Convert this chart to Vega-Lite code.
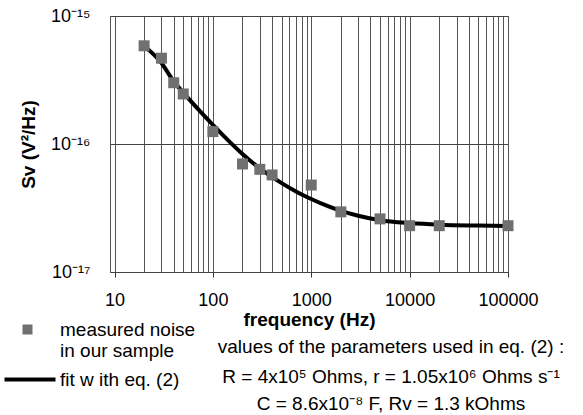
{
  "$schema": "https://vega.github.io/schema/vega-lite/v6.json",
  "width": 398,
  "height": 256,
  "autosize": {"type": "none"},
  "padding": {"left": 110, "top": 16, "right": 75, "bottom": 143},
  "background": "white",
  "config": {
    "font": "Liberation Sans",
    "view": {"stroke": "#555", "strokeWidth": 1}
  },
  "title": {
    "text": "values of the parameters used in eq. (2) :",
    "subtitle": ["R = 4x10⁵ Ohms, r = 1.05x10⁶ Ohms s⁻¹", "C = 8.6x10⁻⁸ F, Rv = 1.3 kOhms"],
    "orient": "bottom",
    "anchor": "middle",
    "frame": "group",
    "dx": 82,
    "dy": -52,
    "fontSize": 19,
    "fontWeight": "normal",
    "color": "black",
    "subtitleFontSize": 19,
    "subtitleColor": "black",
    "subtitleLineHeight": 27,
    "subtitlePadding": 11,
    "offset": 0
  },
  "datasets": {
    "measured": [
      {"f": 20, "sv": 5.85e-16, "series": "measured"},
      {"f": 30, "sv": 4.68e-16, "series": "measured"},
      {"f": 40, "sv": 3.01e-16, "series": "measured"},
      {"f": 50, "sv": 2.46e-16, "series": "measured"},
      {"f": 100, "sv": 1.25e-16, "series": "measured"},
      {"f": 200, "sv": 6.98e-17, "series": "measured"},
      {"f": 300, "sv": 6.34e-17, "series": "measured"},
      {"f": 400, "sv": 5.73e-17, "series": "measured"},
      {"f": 1000, "sv": 4.78e-17, "series": "measured"},
      {"f": 2000, "sv": 2.95e-17, "series": "measured"},
      {"f": 5000, "sv": 2.6e-17, "series": "measured"},
      {"f": 10000, "sv": 2.3e-17, "series": "measured"},
      {"f": 20000, "sv": 2.3e-17, "series": "measured"},
      {"f": 100000, "sv": 2.3e-17, "series": "measured"}
    ],
    "fit": [
      {"f": 20, "sv": 5.83e-16},
      {"f": 30, "sv": 4.3e-16},
      {"f": 40, "sv": 3.08e-16},
      {"f": 50, "sv": 2.52e-16},
      {"f": 70, "sv": 1.89e-16},
      {"f": 100, "sv": 1.41e-16},
      {"f": 150, "sv": 1.03e-16},
      {"f": 200, "sv": 8.35e-17},
      {"f": 300, "sv": 6.44e-17},
      {"f": 500, "sv": 4.95e-17},
      {"f": 700, "sv": 4.26e-17},
      {"f": 1000, "sv": 3.72e-17},
      {"f": 1500, "sv": 3.25e-17},
      {"f": 2000, "sv": 3.0e-17},
      {"f": 3000, "sv": 2.75e-17},
      {"f": 5000, "sv": 2.54e-17},
      {"f": 10000, "sv": 2.41e-17},
      {"f": 20000, "sv": 2.34e-17},
      {"f": 50000, "sv": 2.305e-17},
      {"f": 100000, "sv": 2.29e-17}
    ]
  },
  "encoding": {
    "x": {
      "field": "f",
      "type": "quantitative",
      "scale": {"type": "log", "domain": [9, 100000], "nice": false},
      "axis": {
        "values": [10, 20, 30, 40, 50, 60, 70, 80, 90, 100, 200, 300, 400, 500, 600, 700, 800, 900, 1000, 2000, 3000, 4000, 5000, 6000, 7000, 8000, 9000, 10000, 20000, 30000, 40000, 50000, 60000, 70000, 80000, 90000, 100000],
        "labelExpr": "indexof([10, 100, 1000, 10000, 100000], datum.value) >= 0 ? format(datum.value, 'd') : ''",
        "grid": true,
        "gridColor": "#555",
        "gridWidth": 1,
        "domain": false,
        "tickSize": 5,
        "tickColor": {"condition": {"test": "indexof([10, 100, 1000, 10000, 100000], datum.value) >= 0", "value": "#333"}, "value": "transparent"},
        "labelFontSize": 18,
        "labelColor": "black",
        "labelPadding": 14,
        "labelFlush": false,
        "labelOverlap": false,
        "labelBound": false,
        "title": "frequency (Hz)",
        "titleFontSize": 19,
        "titleFontWeight": "bold",
        "titleColor": "black",
        "titlePadding": 1
      }
    },
    "y": {
      "field": "sv",
      "type": "quantitative",
      "scale": {"type": "log", "domain": [1e-17, 1e-15], "nice": false},
      "axis": {
        "values": [1e-17, 1e-16, 1e-15],
        "labelExpr": "datum.value > 5e-16 ? '10⁻¹⁵' : datum.value > 5e-17 ? '10⁻¹⁶' : '10⁻¹⁷'",
        "grid": true,
        "gridColor": "#444",
        "ticks": false,
        "domain": false,
        "labelFontSize": 18,
        "labelColor": "black",
        "labelPadding": 20,
        "labelFlush": false,
        "labelOverlap": false,
        "title": "Sv (V²/Hz)",
        "titleFontSize": 19,
        "titleFontWeight": "bold",
        "titleColor": "black",
        "titlePadding": 12
      }
    }
  },
  "layer": [
    {
      "data": {"name": "fit"},
      "mark": {"type": "line", "color": "black", "strokeWidth": 4, "interpolate": "monotone", "clip": true}
    },
    {
      "data": {"name": "measured"},
      "mark": {"type": "point", "size": 121, "opacity": 1, "strokeWidth": 4},
      "encoding": {
        "shape": {
          "field": "series",
          "type": "nominal",
          "scale": {"domain": ["measured", "fit"], "range": ["M-1,-1H1V1H-1Z", "M-4.6,0H5.6"]},
          "legend": {
            "orient": "none",
            "legendX": -92,
            "legendY": 304,
            "title": null,
            "labelFont": "Liberation Sans",
            "labelFontSize": 19,
            "labelColor": "black",
            "labelLimit": 300,
            "labelOffset": 23,
            "symbolSize": 100,
            "symbolStrokeWidth": 4,
            "symbolOpacity": 1,
            "rowPadding": 9,
            "labelExpr": "datum.value == 'measured' ? ['measured noise', 'in our sample'] : 'fit w ith eq. (2)'",
            "encode": {
              "labels": {
                "update": {"lineHeight": {"value": 26}}
              }
            }
          }
        },
        "fill": {
          "field": "series",
          "type": "nominal",
          "scale": {"domain": ["measured", "fit"], "range": ["#707070", "transparent"]},
          "legend": {
            "orient": "none",
            "legendX": -92,
            "legendY": 304,
            "title": null
          }
        },
        "stroke": {
          "field": "series",
          "type": "nominal",
          "scale": {"domain": ["measured", "fit"], "range": ["transparent", "black"]},
          "legend": {
            "orient": "none",
            "legendX": -92,
            "legendY": 304,
            "title": null
          }
        }
      }
    }
  ]
}
